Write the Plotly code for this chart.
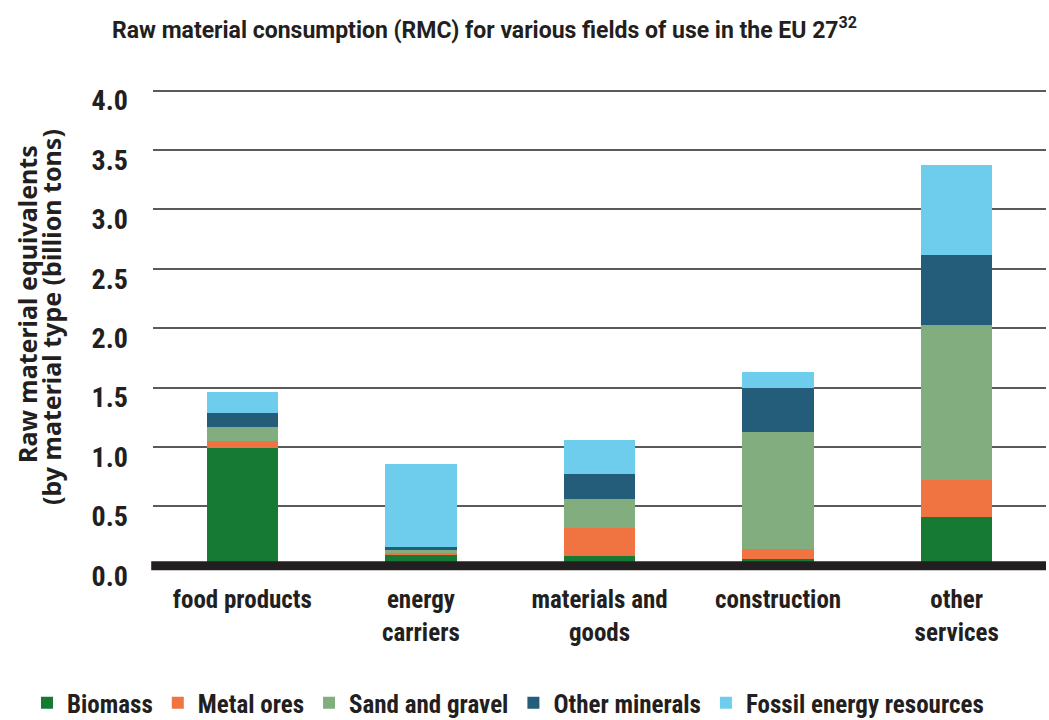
import plotly.graph_objects as go

categories = ["food products", "energy<br>carriers", "materials and<br>goods", "construction", "other<br>services"]

biomass = [0.99, 0.09, 0.08, 0.06, 0.41]
metal_ores = [0.06, 0.02, 0.24, 0.08, 0.31]
sand_gravel = [0.12, 0.02, 0.24, 0.99, 1.31]
other_minerals = [0.12, 0.03, 0.21, 0.37, 0.59]
fossil_energy = [0.17, 0.70, 0.29, 0.13, 0.75]

y_ticks = [0, 0.5, 1, 1.5, 2, 2.5, 3, 3.5, 4]
y_title_lines = ["Raw material equivalents", "(by material type (billion tons)"]

series = [
    ("Biomass", biomass, "#167a35"),
    ("Metal ores", metal_ores, "#f07442"),
    ("Sand and gravel", sand_gravel, "#82ad7e"),
    ("Other minerals", other_minerals, "#245d79"),
    ("Fossil energy resources", fossil_energy, "#6ecdec"),
]

COND = "Roboto Condensed, Open Sans Condensed, sans-serif"
INK = "#231f20"

W, H = 1049, 720
ML, MR, MT, MB = 153, 3, 87, 140
PW, PH = W - ML - MR, H - MT - MB

Y_RANGE = [-0.12, 4.03]
LABEL_DROP = 0.085  # tick labels sit a little below their gridlines

fig = go.Figure()
for name, vals, color in series:
    fig.add_trace(go.Bar(
        name=name, x=categories, y=vals,
        marker=dict(color=color, line=dict(width=0)),
        width=0.4,
    ))

fig.update_layout(
    barmode="stack",
    width=W, height=H,
    paper_bgcolor="white", plot_bgcolor="white",
    margin=dict(l=ML, r=MR, t=MT, b=MB, autoexpand=False),
    font=dict(family=COND, color=INK),
    title=dict(
        text="<b>Raw material consumption (RMC) for various fields of use in the EU 27<sup>32</sup></b>",
        x=112 / W, xanchor="left", y=1 - 30 / H, yanchor="middle",
        font=dict(size=23, family="Roboto, sans-serif", color=INK),
    ),
    showlegend=True,
    legend=dict(
        orientation="h", x=(27 - ML) / PW, xanchor="left",
        y=-(703 - (H - MB)) / PH, yanchor="middle",
        font=dict(size=25, family=COND, color=INK, weight="bold"),
        traceorder="normal",
    ),
    yaxis=dict(
        range=Y_RANGE, tickvals=y_ticks, showticklabels=False,
        showgrid=True, gridcolor="#5a5a5a", gridwidth=2,
        zeroline=False, showline=False, ticks="", automargin=False,
    ),
    yaxis2=dict(
        overlaying="y", side="left",
        range=[Y_RANGE[0] + LABEL_DROP, Y_RANGE[1] + LABEL_DROP],
        tickvals=y_ticks, tickformat=".1f",
        showgrid=False, zeroline=False, showline=False, ticks="", automargin=False,
        tickfont=dict(size=28, family=COND, color=INK, weight="bold"),
        ticklabelstandoff=24,
    ),
    xaxis=dict(
        showline=False, ticks="", automargin=False,
        tickfont=dict(size=25, family=COND, color=INK, weight="bold"),
        ticklabelstandoff=2,
    ),
)

# an empty trace on the second y axis so its tick labels render
fig.add_trace(go.Scatter(x=[categories[0]], y=[None], yaxis="y2", showlegend=False, hoverinfo="skip"))

# two-line rotated y-axis title with tight line spacing
for line, px_x, px_y in zip(y_title_lines, [27, 51], [304, 317]):
    fig.add_annotation(
        text=f"<b>{line}</b>", textangle=-90, showarrow=False,
        xref="paper", yref="paper",
        x=(px_x - ML) / PW, y=((H - MB) - px_y) / PH,
        xanchor="center", yanchor="middle",
        font=dict(size=25, family="Noto Sans, sans-serif", color=INK),
    )

# heavy baseline at zero
fig.add_shape(type="line", xref="paper", yref="y", x0=-0.002, x1=1, y0=0, y1=0,
              line=dict(color=INK, width=9), layer="above")

fig.write_html("out.html")
